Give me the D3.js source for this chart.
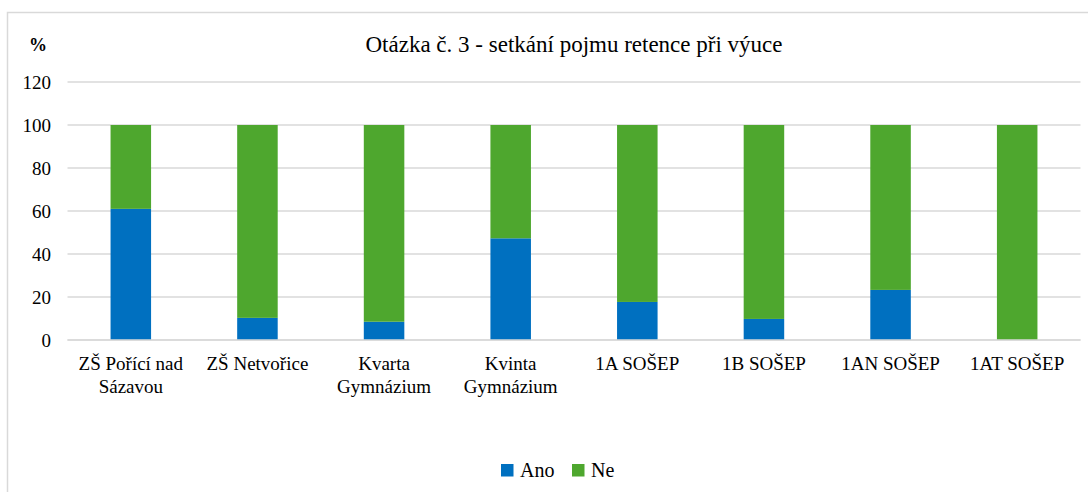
<!DOCTYPE html>
<html>
<head>
<meta charset="utf-8">
<script src="https://cdn.jsdelivr.net/npm/d3@7"></script>
<style>
  html, body { margin: 0; padding: 0; background: #fff; }
  svg { display: block; }
  text { font-family: "Liberation Serif", "Times New Roman", Times, Tinos, "DejaVu Serif", "Noto Serif", serif; fill: #000; }
</style>
</head>
<body>
<svg id="chart" width="1088" height="492"></svg>
<script>
const categories = [
  ["ZŠ Pořící nad", "Sázavou"],
  ["ZŠ Netvořice"],
  ["Kvarta", "Gymnázium"],
  ["Kvinta", "Gymnázium"],
  ["1A SOŠEP"],
  ["1B SOŠEP"],
  ["1AN SOŠEP"],
  ["1AT SOŠEP"]
];
const categoryKeys = categories.map(c => c.join(" "));
const ano = [61, 10.3, 8.5, 47.3, 17.7, 9.8, 23.3, 0];
const ne  = [39, 89.7, 91.5, 52.7, 82.3, 90.2, 76.7, 100];
const seriesNames = ["Ano", "Ne"];
const seriesColors = ["#0070C0", "#4EA72E"];
const yTicks = [0, 20, 40, 60, 80, 100, 120];
const titleText = "Otázka č. 3 - setkání pojmu retence při výuce";
const yUnit = "%";

const svg = d3.select("#chart");

svg.append("rect")
  .attr("x", 7.5).attr("y", 12.5)
  .attr("width", 1100).attr("height", 500)
  .attr("fill", "none").attr("stroke", "#d9d9d9").attr("stroke-width", 1.5);

const plot = { left: 67.5, right: 1080.5, top: 82, bottom: 340 };

const x = d3.scaleBand()
  .domain(categoryKeys)
  .range([plot.left, plot.right])
  .paddingInner(0.68)
  .paddingOuter(0.34);

const y = d3.scaleLinear().domain([0, 120]).range([plot.bottom, plot.top]);

svg.append("g").selectAll("line")
  .data(yTicks)
  .join("line")
  .attr("x1", plot.left).attr("x2", plot.right)
  .attr("y1", d => y(d)).attr("y2", d => y(d))
  .attr("stroke", "#d9d9d9").attr("stroke-width", 1.5);

const yAxis = d3.axisLeft(y).tickValues(yTicks).tickSize(0).tickPadding(0);
const gy = svg.append("g").attr("transform", `translate(51,0)`).call(yAxis);
gy.attr("font-family", null).attr("font-size", null);
gy.select(".domain").remove();
gy.selectAll("text")
  .style("font-size", "19px")
  .attr("fill", "#000")
  .attr("dy", "0.34em");

const rows = categoryKeys.map((k, i) => ({ key: k, Ano: ano[i], Ne: ne[i] }));
const stack = d3.stack().keys(seriesNames)(rows);
svg.append("g").selectAll("g")
  .data(stack)
  .join("g")
  .attr("fill", (d, i) => seriesColors[i])
  .selectAll("rect")
  .data(d => d)
  .join("rect")
  .attr("x", d => x(d.data.key))
  .attr("width", x.bandwidth())
  .attr("y", d => y(d[1]))
  .attr("height", d => y(d[0]) - y(d[1]));

svg.append("line")
  .attr("x1", plot.left).attr("x2", plot.right)
  .attr("y1", y(0)).attr("y2", y(0))
  .attr("stroke", "#d9d9d9").attr("stroke-width", 1.5);

const xl = svg.append("g");
categories.forEach((lines, i) => {
  const cx = x(categoryKeys[i]) + x.bandwidth() / 2;
  const t = xl.append("text")
    .attr("x", cx).attr("y", 370)
    .attr("text-anchor", "middle")
    .style("font-size", "19px");
  lines.forEach((ln, j) => {
    t.append("tspan").attr("x", cx).attr("dy", j === 0 ? 0 : 23).text(ln);
  });
});

svg.append("text")
  .attr("x", 574).attr("y", 52)
  .attr("text-anchor", "middle")
  .style("font-size", "23px")
  .text(titleText);

svg.append("text")
  .attr("x", 38).attr("y", 51)
  .attr("text-anchor", "middle")
  .style("font-size", "18px")
  .style("font-weight", "bold")
  .text(yUnit);

const legendItems = [
  { name: seriesNames[0], color: seriesColors[0], x: 501 },
  { name: seriesNames[1], color: seriesColors[1], x: 572 }
];
const lg = svg.append("g");
legendItems.forEach(it => {
  lg.append("rect").attr("x", it.x).attr("y", 464).attr("width", 12.5).attr("height", 12.5).attr("fill", it.color);
  lg.append("text").attr("x", it.x + 19).attr("y", 476.5).style("font-size", "20px").text(it.name);
});
</script>
</body>
</html>
